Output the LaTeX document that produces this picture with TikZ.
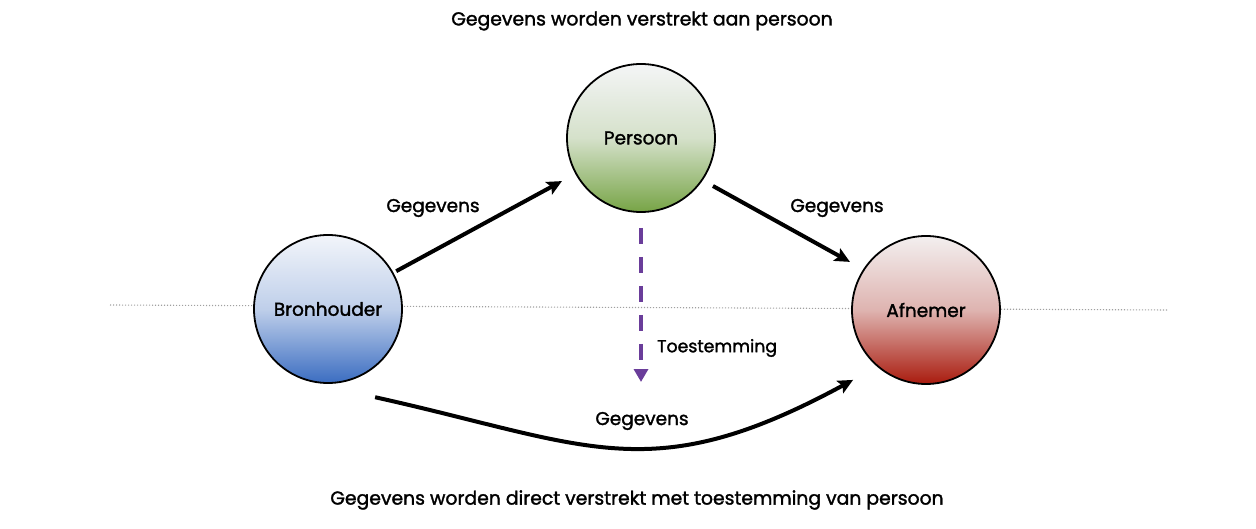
\documentclass[tikz,border=0pt]{standalone}
\usepackage{fontspec}
\setmainfont{Poppins}[BoldFont=Poppins,BoldFeatures={FakeBold=1.6}]
\usetikzlibrary{arrows.meta,calc}
\definecolor{bluetop}{HTML}{F2F5FA}
\definecolor{bluebot}{HTML}{3B6DC1}
\definecolor{greentop}{HTML}{F4F5F6}
\definecolor{greenbot}{HTML}{77A446}
\definecolor{redtop}{HTML}{F3EFEF}
\definecolor{redbot}{HTML}{A91B0E}
\definecolor{consent}{HTML}{6A3D9A}
\definecolor{axisgray}{HTML}{A0A0A0}
\begin{document}
\begin{tikzpicture}[x=1pt,y=-1pt,
  entity/.style={circle,draw=black,line width=1.8pt,minimum size=148pt,inner sep=0pt,
    font=\fontsize{18.5}{22}\selectfont\bfseries},
  flow/.style={line width=4pt,-{Stealth[length=15pt,width=14pt,inset=3pt]}},
  consentflow/.style={consent,line width=4pt,dash pattern=on 16.5pt off 12.5pt,
    -{Triangle[length=13pt,width=14pt]}},
  lbl/.style={font=\fontsize{18.5}{22}\selectfont\bfseries,inner sep=0pt},
  lbls/.style={font=\fontsize{17.3}{21}\selectfont\bfseries,inner sep=0pt},
  ttl/.style={font=\fontsize{18.8}{22}\selectfont\bfseries,inner sep=0pt},
  divider/.style={axisgray,line width=1.1pt,dash pattern=on 1.2pt off 1.8pt}]
\useasboundingbox (0,0) rectangle (1256,529);
% dotted divider behind the circles
\coordinate (divL) at (110,305);
\coordinate (divR) at (1168,310);
\draw[divider] (divL) -- (divR);
% entities
\node[entity,top color=bluetop,bottom color=bluebot,middle color=bluetop!72!bluebot] (bron) at (328,309) {Bronhouder};
\node[entity,top color=greentop,bottom color=greenbot,middle color=greentop!75!greenbot] (pers) at (641,138) {Persoon};
\node[entity,top color=redtop,bottom color=redbot,middle color=redtop!72!redbot] (afn) at (926,310) {Afnemer};
% flows
\draw[flow] ($(bron)+(29:78pt)$) -- ($(pers)+(208.6:90pt)$);
\draw[flow] ($(pers)+(-33.7:86.5pt)$) -- ($(afn)+(147.7:90pt)$);
\draw[flow] ($(bron)+(-61.9:100pt)$) .. controls (590,445) and (650,490) .. ($(afn)+(223.8:101pt)$);
\draw[consentflow] ($(pers)+(0,90)$) -- ($(pers)+(0,244)$);
% labels
\node[lbl] (lg1) at (433,208) {Gegevens};
\node[lbl] (lg2) at (837,208) {Gegevens};
\node[lbl] (lg3) at (642,421) {Gegevens};
\node[lbls,anchor=west] (lt) at (657,348) {Toestemming};
\node[ttl] (t1) at (642,21) {Gegevens worden verstrekt aan persoon};
\node[ttl] (t2) at (637,500) {Gegevens worden direct verstrekt met toestemming van persoon};
\end{tikzpicture}
\end{document}
